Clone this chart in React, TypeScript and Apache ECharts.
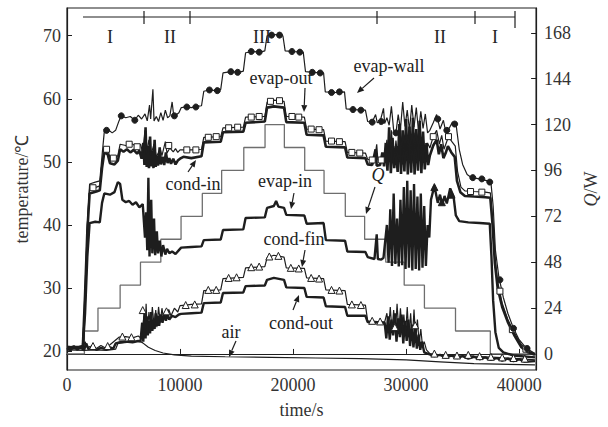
import React, { useEffect, useRef } from "react";
import * as echarts from "echarts";

const FONT = '"Liberation Serif", "Times New Roman", serif';

// time (s) ticks and temperature / power ticks
const xTicks = [0, 10000, 20000, 30000, 40000];
const tempTicks = [20, 30, 40, 50, 60, 70];
const powerTicks = [0, 24, 48, 72, 96, 120, 144, 168];

// heating power Q (W), value holds until the next change
const qPower: number[][] = [
  [0, 0], [1540, 12], [2740, 24], [4700, 36], [6500, 48], [8300, 60], [10090, 72], [11970, 84],
  [13680, 96], [15640, 108], [17520, 120], [19230, 108], [21030, 96], [22740, 84], [24620, 72],
  [26330, 60], [28200, 48], [29830, 36], [31620, 24], [34370, 12], [37450, 0], [41500, 0],
];

const evapWall: number[][] = [
  [0, 20.8], [800, 20.6], [1400, 20.9], [1600, 28], [1800, 40], [2000, 46.5], [2500, 46.8], [2900, 47],
  [3100, 51], [3300, 54.8], [3700, 55], [4000, 54.6], [4300, 55], [4600, 56.5], [4800, 57.3], [5200, 57],
  [5600, 57.2], [6000, 56.6], [6300, 57.4], [6600, 56.8], [6900, 57.6], [7100, 56.5], [7300, 59], [7400, 56.8],
  [7600, 61.5], [7700, 56.5], [7900, 57.2], [8100, 56.4], [8300, 57.8], [8500, 56.6], [8700, 58.2], [8900, 57],
  [9100, 57.3], [9300, 59.5], [9450, 57.2], [9700, 57.5], [9900, 57.8], [10100, 58.6], [10500, 58.7],
  [11000, 58.6], [11500, 58.8], [11900, 58.9], [12100, 61.2], [12600, 61.4], [13200, 61.3], [13600, 61.5],
  [13800, 64.1], [14500, 64.3], [15200, 64.2], [15600, 64.4], [15800, 67.3], [16500, 67.5], [17100, 67.4],
  [17500, 67.6], [17700, 70], [18400, 70.2], [19100, 70], [19300, 67.6], [20000, 67.5], [20900, 67.4],
  [21100, 64.3], [21800, 64.2], [22700, 64.1], [22850, 61.1], [23700, 61], [24550, 61.1], [24700, 58.4],
  [25500, 58.3], [26400, 58.2], [26600, 56.4], [27000, 56.3], [27300, 57.5], [27450, 56.2], [27700, 56.4],
  [28000, 58.5], [28100, 56.1], [28300, 57], [28500, 55.8], [28700, 58.8], [28900, 55], [29100, 54.6],
  [29300, 57.5], [29500, 55.2], [29700, 59.5], [29900, 55.6], [30100, 58.2], [30300, 55], [30500, 59],
  [30700, 55.5], [30900, 58.6], [31100, 54.8], [31300, 58], [31500, 55.3], [31700, 57.6], [31900, 54.6],
  [32100, 55], [32400, 56.2], [32700, 57.5], [33000, 55.2], [33300, 56.6], [33500, 54.8], [33800, 55.3],
  [34100, 56.3], [34400, 56.2], [34700, 52], [35000, 49.6], [35400, 48], [35800, 47.5], [36500, 47.3],
  [37200, 47], [37500, 46.8], [37700, 43], [37900, 36], [38200, 31.8], [38600, 28.5], [39000, 26],
  [39500, 23.6], [40000, 21.8], [40600, 20.5], [41400, 19.6],
];
const evapWallMarks: number[][] = [
  [3500, 55], [4800, 57.3], [6000, 56.6], [9500, 57.3], [10600, 58.7], [11400, 58.7], [12600, 61.4],
  [13300, 61.3], [14500, 64.3], [15100, 64.2], [16300, 67.5], [17000, 67.4], [18100, 70.1], [18800, 70.1],
  [19900, 67.5], [20600, 67.4], [21700, 64.2], [22400, 64.1], [23400, 61], [24100, 61.1], [25300, 58.3],
  [26000, 58.2], [27000, 56.3], [27800, 56.4], [29100, 54.6], [32800, 56.8], [33600, 55], [34300, 56],
  [35900, 47.5], [36700, 47.3], [37400, 46.8], [38300, 31.3], [39500, 23.6], [40700, 20.4],
];

const evapOut: number[][] = [
  [0, 20.7], [1400, 20.8], [1600, 30], [1800, 40], [2000, 45.8], [2600, 46], [2900, 46.2], [3100, 50],
  [3300, 52.3], [3600, 52], [3800, 50.7], [4200, 50.5], [4500, 51], [4700, 52.8], [5200, 52.6], [5700, 52.9],
  [6200, 52.4], [6500, 52.8], [6700, 51.5], [6900, 55], [7000, 51.2], [7250, 53.5], [7400, 51], [7700, 52.8],
  [7900, 50.8], [8250, 52], [8400, 51], [8700, 53.2], [8850, 51.4], [9100, 52.2], [9400, 51.6], [9600, 52.1],
  [9800, 51.5], [10000, 51.9], [11000, 51.9], [11900, 52], [12100, 53.9], [13600, 54], [13800, 55.4],
  [15600, 55.5], [15800, 57.1], [17500, 57.2], [17700, 59.5], [18300, 59.8], [19200, 59.6], [19400, 57.2],
  [21000, 57.1], [21200, 55.2], [22700, 55.1], [22900, 53.3], [24600, 53.2], [24800, 51.5], [26400, 51.4],
  [26600, 50.4], [27200, 50.3], [27400, 52.8], [27500, 50.3], [28100, 50.4], [28300, 53.5], [28500, 50],
  [28700, 55], [28900, 49.5], [29100, 53.4], [29300, 50], [29500, 55.6], [29700, 49.6], [29900, 54.2],
  [30100, 50.2], [30300, 55.8], [30500, 49.8], [30700, 54.6], [30900, 50.3], [31100, 55.5], [31300, 49.9],
  [31500, 54], [31700, 50.5], [31900, 53], [32100, 52.2], [32400, 54], [32700, 55], [32950, 52.8],
  [33150, 54.2], [33350, 52], [33550, 53], [33750, 54], [34050, 53.2], [34350, 52.5], [34550, 48.5],
  [34850, 46], [35200, 45.4], [36000, 45.3], [37000, 45.2], [37450, 45.1], [37650, 41], [37850, 35],
  [38100, 31], [38500, 27.6], [39000, 25], [39600, 22.8], [40200, 21], [40800, 20], [41400, 19.6],
];
const evapOutMarks: number[][] = [
  [2300, 45.9], [3500, 52], [4100, 50.6], [5500, 52.8], [6200, 52.4], [9000, 52.6], [10600, 51.9],
  [11400, 51.9], [12500, 53.9], [13200, 54], [14300, 55.4], [15100, 55.5], [16300, 57.1], [17000, 57.2],
  [18000, 59.6], [18800, 59.7], [19900, 57.2], [20500, 57.1], [21600, 55.2], [22300, 55.1], [23400, 53.3],
  [24100, 53.2], [25200, 51.5], [25900, 51.4], [27000, 50.3], [27800, 50.3], [32400, 54], [33750, 54],
  [35700, 45.3], [36700, 45.2], [38300, 29.5], [39400, 23.4], [40600, 20.3],
];

const condIn: number[][] = [
  [0, 20.5], [1400, 20.6], [1600, 29], [1800, 39], [2000, 45], [2600, 45.3], [2900, 45.5], [3100, 49],
  [3300, 51.5], [3600, 51.2], [3800, 49.8], [4200, 49.6], [4500, 50.2], [4700, 52], [5000, 51.6], [5300, 52],
  [5600, 51.5], [5900, 51.9], [6200, 51.3], [6400, 51.8], [6600, 50.5], [6750, 53], [6850, 49.5], [6950, 55.5],
  [7050, 49.2], [7150, 52.5], [7250, 49], [7350, 54], [7450, 49.3], [7550, 51.8], [7650, 49], [7750, 53.5],
  [7850, 49.2], [7950, 51], [8050, 49.4], [8200, 52.3], [8300, 49.6], [8450, 50.8], [8600, 49.5], [8750, 51.5],
  [8900, 49.8], [9050, 50.6], [9200, 49.7], [9400, 50.5], [9600, 49.6], [9800, 50.2], [10000, 50.5],
  [10300, 50.8], [11000, 50.6], [11900, 50.9], [12100, 53.1], [13600, 53.2], [13800, 54.7], [15600, 54.8],
  [15800, 56.2], [17500, 56.4], [17700, 58.6], [18300, 58.8], [19200, 58.6], [19400, 56.3], [21000, 56.2],
  [21200, 54.3], [22700, 54.2], [22900, 52.4], [24600, 52.3], [24800, 50.7], [26400, 50.6], [26600, 49.6],
  [27000, 49.5], [27300, 52], [27400, 49.4], [27700, 49.5], [27900, 51.5], [28050, 49.3], [28200, 53],
  [28350, 48.6], [28500, 55.5], [28650, 48.2], [28800, 53.8], [28950, 49], [29100, 52.5], [29250, 48.4],
  [29400, 56], [29550, 48.1], [29700, 55], [29850, 48.5], [30000, 56.8], [30150, 48], [30300, 55.6],
  [30450, 48.3], [30600, 57], [30750, 48], [30900, 55.2], [31050, 48.6], [31200, 56.5], [31350, 48.2],
  [31500, 54.8], [31650, 48.8], [31800, 53], [31950, 49.5], [32100, 51], [32400, 52.6], [32700, 53.5],
  [32900, 51.2], [33100, 52.8], [33300, 50.6], [33500, 51.4], [33700, 52.5], [34000, 51.5], [34300, 50.8],
  [34500, 47], [34800, 45.2], [35200, 44.6], [36000, 44.5], [37000, 44.4], [37450, 44.3], [37650, 40],
  [37850, 34], [38100, 30], [38500, 27], [39000, 24.6], [39600, 22.4], [40200, 20.6], [40800, 19.8],
  [41400, 19.4],
];

const evapIn: number[][] = [
  [0, 20.4], [1400, 20.5], [1600, 26], [1800, 35], [2000, 40.3], [2500, 40.5], [2900, 40.4], [3100, 43.5],
  [3300, 45], [3800, 44.8], [4200, 45.2], [4500, 46.8], [4700, 46.5], [4900, 44], [5200, 43.6], [5500, 43.8],
  [5800, 43.2], [6100, 43.6], [6400, 42.8], [6700, 43.3], [6900, 38], [7000, 42], [7100, 36], [7200, 47.5],
  [7300, 35], [7450, 44], [7550, 35.5], [7700, 41], [7800, 35.2], [7950, 39], [8050, 35.5], [8200, 37.5],
  [8350, 35], [8500, 36.8], [8700, 35.3], [8850, 36.2], [9050, 35.5], [9300, 35.8], [9600, 35.4], [9900, 36],
  [10100, 36.4], [11000, 36.5], [11900, 36.6], [12100, 37.6], [13600, 37.7], [13800, 39.2], [15600, 39.3],
  [15800, 41.1], [17500, 41.2], [17700, 42.7], [18300, 43], [18500, 43.8], [18700, 42.9], [19200, 42.7],
  [19400, 41.6], [21000, 41.5], [21200, 40.2], [22700, 40.3], [22900, 37.6], [24600, 37.5], [24800, 35.8],
  [26400, 35.7], [26600, 34.9], [27200, 34.6], [27400, 38.5], [27500, 34.6], [27800, 34.5], [28000, 34.8],
  [28300, 40], [28450, 34], [28600, 42.5], [28750, 33.5], [28900, 45], [29050, 33.8], [29200, 41],
  [29350, 33.4], [29500, 44], [29650, 33.6], [29800, 46], [29950, 33], [30100, 47], [30250, 33.2],
  [30400, 45.5], [30550, 32.8], [30700, 46.5], [30850, 33], [31000, 44.5], [31150, 32.8], [31300, 45],
  [31450, 33.2], [31600, 43], [31750, 33.5], [31900, 40], [32050, 38], [32200, 44], [32500, 46.2],
  [32800, 43.5], [33000, 44.8], [33200, 43.2], [33400, 44.6], [33600, 43.4], [33900, 45.8], [34200, 44.5],
  [34400, 41.5], [34700, 40.6], [35500, 40.4], [36500, 40.3], [37400, 40.2], [37550, 35], [37700, 28],
  [37900, 23], [38200, 20.5], [38600, 19.8], [39500, 19.3], [41400, 19],
];
const evapInMarks: number[][] = [[32500, 46], [33160, 43.6], [34020, 44.8]];

const condFin: number[][] = [
  [0, 20.3], [800, 20.5], [1400, 20.4], [1600, 21.5], [1800, 20.6], [2200, 20.8], [2600, 20.4], [3000, 20.9],
  [3400, 20.5], [3800, 21], [4200, 21.6], [4600, 22.2], [5200, 22.3], [5800, 22.1], [6300, 22.4], [6600, 22],
  [6800, 25.5], [6900, 23], [7000, 27.5], [7100, 22.8], [7250, 26.2], [7400, 23.5], [7550, 27], [7700, 24],
  [7850, 26.5], [7950, 23.8], [8100, 27], [8250, 24.5], [8400, 26.8], [8550, 25], [8700, 26.3], [8850, 25.2],
  [9000, 26.6], [9200, 25.6], [9500, 26.8], [9800, 26.2], [10000, 27.2], [10500, 27.3], [11000, 27.4],
  [11900, 27.5], [12100, 29.6], [13600, 29.7], [13800, 31.5], [15600, 31.7], [15800, 33.2], [17500, 33.4],
  [17700, 34.8], [18300, 35.2], [19200, 34.9], [19400, 33.2], [21000, 33.1], [21200, 31.6], [22700, 31.5],
  [22900, 29.7], [24600, 29.6], [24800, 27.4], [26400, 27.3], [26600, 24.8], [28100, 24.6], [28300, 26],
  [28450, 23.5], [28600, 27], [28750, 23], [28900, 26.5], [29050, 22.8], [29200, 27.5], [29350, 23.2],
  [29500, 26.8], [29650, 22.6], [29800, 25.8], [29950, 22.4], [30100, 27], [30250, 22.2], [30400, 26],
  [30550, 21.8], [30700, 26.6], [30850, 21.5], [31000, 25], [31150, 21.2], [31300, 23.5], [31450, 20.8],
  [31600, 21.5], [31800, 20.2], [32100, 19.6], [33000, 19.4], [34000, 19.3], [35000, 19.4], [36000, 19.2],
  [37000, 19.1], [38000, 19], [39000, 18.9], [40000, 18.8], [41400, 18.6],
];
const condFinMarks: number[][] = [
  [2300, 20.8], [3600, 20.8], [4900, 22.3], [5700, 22.2], [6700, 26.5], [8800, 26.3], [10500, 27.3],
  [11300, 27.4], [12500, 29.7], [13200, 29.7], [14300, 31.6], [15000, 31.7], [16300, 33.3], [17000, 33.4],
  [17900, 35], [18700, 35.1], [19800, 33.2], [20500, 33.1], [21600, 31.6], [22300, 31.5], [23400, 29.7],
  [24100, 29.6], [25200, 27.4], [26000, 27.3], [27000, 24.8], [27700, 24.7], [29000, 23.8], [30800, 24.1],
  [32500, 19.6], [33500, 19.4], [34500, 19.3], [35500, 19.4], [36500, 19.2], [37500, 19.1], [38500, 19],
  [39500, 18.9], [40500, 18.8],
];

const condOut: number[][] = [
  [0, 20.5], [300, 20.1], [600, 20.8], [900, 20.2], [1200, 20.7], [1500, 20.1], [1700, 21.2], [1900, 20.3],
  [2200, 20.6], [2600, 20.2], [3000, 20.5], [3400, 20.3], [3800, 20.6], [4100, 20.4], [4300, 21.2], [4700, 21.4],
  [5200, 21.5], [5800, 21.4], [6300, 21.6], [6500, 21.5], [6650, 24.5], [6750, 21.5], [6850, 26], [6950, 22],
  [7050, 25.5], [7150, 22.5], [7250, 24.8], [7350, 22.8], [7450, 26.2], [7550, 23.2], [7650, 25], [7750, 23.5],
  [7850, 26], [7950, 24], [8050, 25.6], [8150, 24], [8300, 25.8], [8450, 24.5], [8600, 26], [8750, 24.8],
  [8900, 25.8], [9050, 25], [9300, 25.6], [9600, 25.4], [9900, 25.8], [10100, 25.9], [11000, 26], [11900, 26.1],
  [12100, 27.6], [13600, 27.7], [13800, 29.2], [15600, 29.3], [15800, 30.3], [17500, 30.4], [17700, 31.3],
  [18300, 31.6], [19200, 31.3], [19400, 30.1], [21000, 30], [21200, 28.6], [22700, 28.5], [22900, 27.1],
  [24600, 27], [24800, 25.6], [26400, 25.6], [26600, 24.6], [28100, 24.5], [28250, 22], [28400, 25.5],
  [28550, 21.8], [28700, 25], [28850, 22.5], [29000, 26], [29150, 21.5], [29300, 25.2], [29450, 22.2],
  [29600, 25.8], [29750, 21.2], [29900, 24.8], [30050, 21.6], [30200, 25], [30350, 20.8], [30500, 24.2],
  [30650, 20.6], [30800, 23.6], [30950, 20.4], [31100, 22.6], [31250, 20.2], [31400, 21.5], [31600, 19.8],
  [31900, 19.6], [32500, 19.2], [33000, 19.4], [33500, 19], [34000, 19.3], [34500, 18.9], [35000, 19.2],
  [35500, 18.8], [36000, 19.1], [36500, 18.7], [37000, 19], [37500, 18.6], [38000, 18.9], [38500, 18.5],
  [39000, 18.8], [39500, 18.4], [40000, 18.7], [40500, 18.3], [41400, 18.4],
];

const airTemp: number[][] = [
  [0, 20.2], [1500, 20.1], [2500, 20.2], [3500, 20.1], [4300, 20.3], [4500, 21.2], [5500, 21.4], [6400, 21.6],
  [6700, 21.3], [7200, 20.6], [7800, 20.1], [8500, 19.7], [9500, 19.4], [11000, 19.2], [14000, 19.1],
  [18000, 19], [22000, 18.9], [26000, 18.8], [30000, 18.6], [33000, 18.3], [36000, 18], [41400, 17.8],
];

// phase bar labels
const phaseLabels = ["I", "II", "III", "II", "I"];

const INK = "#1e1e1e";

function arrow(x1: number, y1: number, x2: number, y2: number) {
  const a = Math.atan2(y2 - y1, x2 - x1);
  const L = 7, W = 3;
  const bx = x2 - L * Math.cos(a), by = y2 - L * Math.sin(a);
  const px = -Math.sin(a) * W, py = Math.cos(a) * W;
  return [
    { type: "line", shape: { x1, y1, x2: bx, y2: by }, style: { stroke: INK, lineWidth: 1.2 }, z: 100 },
    { type: "polygon", shape: { points: [[x2, y2], [bx + px, by + py], [bx - px, by - py]] }, style: { fill: INK }, z: 100 },
  ];
}

function label(text: string, x: number, y: number, italic = false) {
  return {
    type: "text", x, y, z: 100,
    style: { text, fontFamily: FONT, fontSize: 18, fontStyle: italic ? "italic" : "normal", fill: "#222", align: "center", verticalAlign: "middle" },
  };
}

export default function App() {
  const ref = useRef<HTMLDivElement>(null);
  useEffect(() => {
    if (!ref.current) return;
    const chart = echarts.init(ref.current, undefined, { renderer: "svg" });
    const textStyle = { fontFamily: FONT, fontSize: 18, color: "#333" };
    const plain = (v: number) => String(v);
    const line = (name: string, data: number[][], width: number) => ({
      name, type: "line", data, yAxisIndex: 0, showSymbol: false, symbol: "none",
      lineStyle: { color: INK, width }, z: 3, silent: true,
    });
    const marks = (name: string, data: number[][], symbol: string, size: number, fill: string) => ({
      name, type: "scatter", data, yAxisIndex: 0, symbol, symbolSize: size,
      itemStyle: { color: fill, borderColor: INK, borderWidth: 1, opacity: 1 }, z: 5, silent: true,
    });
    const phaseX = [83, 144, 190, 377, 475, 515];
    const phaseLabelX = [110, 170, 262, 440, 495];
    const graphics: any[] = [
      { type: "line", shape: { x1: phaseX[0], y1: 17, x2: phaseX[5], y2: 17 }, style: { stroke: INK, lineWidth: 1.2 } },
      ...phaseX.slice(1).map((x, i) => ({
        type: "line", shape: { x1: x, y1: 11, x2: x, y2: i === 4 ? 28 : 24 }, style: { stroke: INK, lineWidth: 1.2 },
      })),
      ...phaseLabels.map((t, i) => label(t, phaseLabelX[i], 37)),
      label("evap-wall", 389, 66),
      ...arrow(374, 78, 357, 93),
      label("evap-out", 281, 78),
      ...arrow(305, 88, 304, 112),
      label("cond-in", 193, 184),
      ...arrow(188, 172, 196, 160),
      label("evap-in", 285, 181),
      ...arrow(294, 193, 291, 209),
      label("Q", 378, 175, true),
      ...arrow(375, 187, 366, 214),
      label("cond-fin", 294, 239),
      ...arrow(305, 250, 302, 267),
      label("cond-out", 301, 323),
      ...arrow(293, 310, 299, 295),
      label("air", 231, 332),
      ...arrow(236, 341, 229, 357),
    ];
    chart.setOption({
      animation: false,
      backgroundColor: "#ffffff",
      grid: { left: 67, right: 55, top: 8, bottom: 57, show: true, borderColor: INK, borderWidth: 1.2 },
      xAxis: {
        type: "value", min: 0, max: 41500, interval: 10000,
        axisLine: { show: true, lineStyle: { color: INK, width: 1.2 } },
        axisTick: { show: true, inside: true, length: 5, lineStyle: { color: INK } },
        axisLabel: { ...textStyle, margin: 6, customValues: xTicks, formatter: plain },
        splitLine: { show: false },
        name: "time/s", nameLocation: "middle", nameGap: 31, nameTextStyle: textStyle,
      },
      yAxis: [
        {
          type: "value", min: 17, max: 74.4, position: "left",
          axisLine: { show: true, lineStyle: { color: INK, width: 1.2 } },
          axisTick: { show: true, inside: true, length: 5, customValues: tempTicks, lineStyle: { color: INK } },
          axisLabel: { ...textStyle, margin: 6, customValues: tempTicks, formatter: plain },
          splitLine: { show: false },
          name: "temperature/℃", nameLocation: "middle", nameGap: 36, nameRotate: 90, nameTextStyle: textStyle,
        },
        {
          type: "value", min: -8.4, max: 181, position: "right",
          axisLine: { show: true, lineStyle: { color: INK, width: 1.2 } },
          axisTick: { show: true, inside: true, length: 5, customValues: powerTicks, lineStyle: { color: INK } },
          axisLabel: { ...textStyle, margin: 8, customValues: powerTicks, formatter: plain },
          splitLine: { show: false },
          name: "{q|Q}/W", nameLocation: "middle", nameGap: 36, nameRotate: 90,
          nameTextStyle: { ...textStyle, rich: { q: { fontFamily: FONT, fontSize: 18, fontStyle: "italic", color: "#333" } } },
        },
      ],
      series: [
        {
          name: "Q", type: "line", data: qPower, yAxisIndex: 1, step: "end", showSymbol: false, symbol: "none",
          lineStyle: { color: "#6e6e6e", width: 1.3 }, z: 2, silent: true,
        },
        line("air", airTemp, 1.2),
        line("cond-out", condOut, 2.4),
        line("cond-fin", condFin, 1.2),
        line("evap-in", evapIn, 2.4),
        line("cond-in", condIn, 2.6),
        line("evap-out", evapOut, 1.2),
        line("evap-wall", evapWall, 1.2),
        marks("cond-fin", condFinMarks, "triangle", 7, "#ffffff"),
        marks("evap-in", evapInMarks, "triangle", 7, INK),
        marks("evap-out", evapOutMarks, "rect", 6, "#ffffff"),
        marks("evap-wall", evapWallMarks, "circle", 6, INK),
      ],
      graphic: graphics,
    });
    return () => chart.dispose();
  }, []);
  return <div ref={ref} style={{ width: 608, height: 427, position: "absolute", left: 0, top: 0 }} />;
}
